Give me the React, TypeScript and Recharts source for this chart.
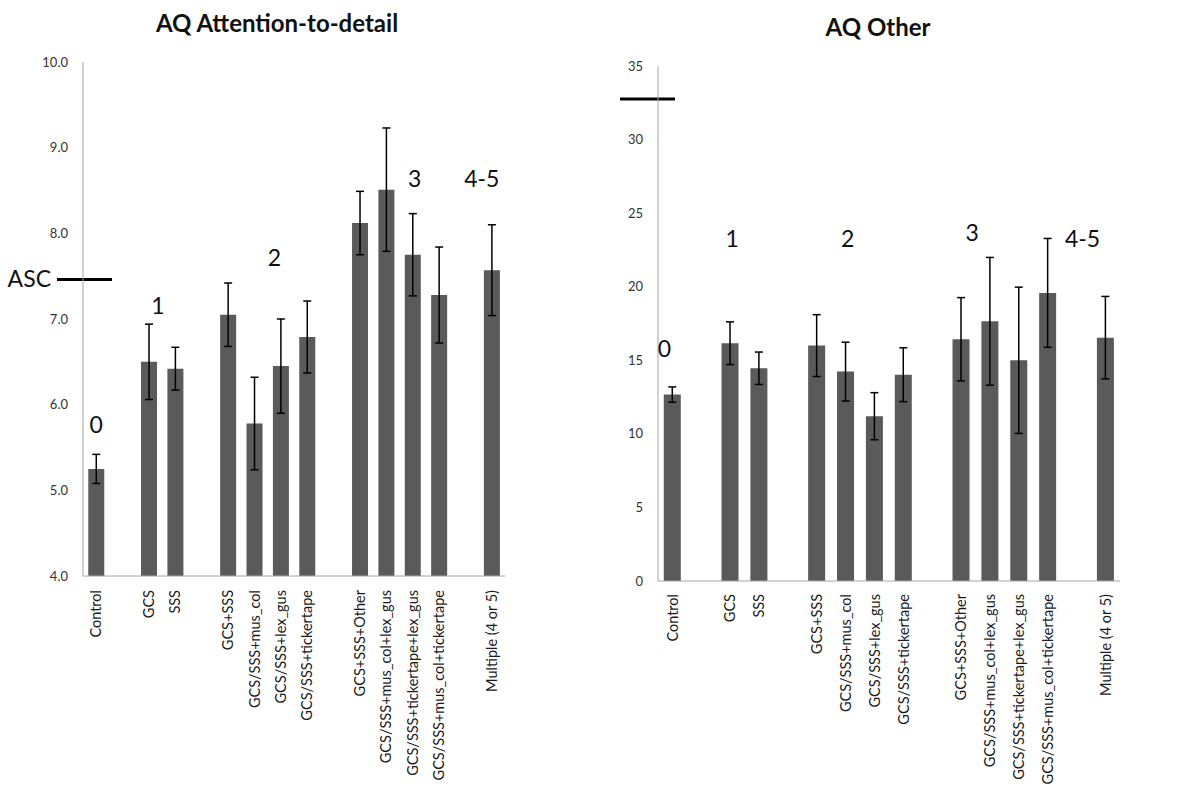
import React from 'react';
import { BarChart, Bar, XAxis, YAxis, ErrorBar, ReferenceLine, ReferenceDot } from 'recharts';

// categories (gapN = empty slot between groups)
const categories = [
    'Control', 'gap1', 'GCS', 'SSS', 'gap2',
    'GCS+SSS', 'GCS/SSS+mus_col', 'GCS/SSS+lex_gus', 'GCS/SSS+tickertape', 'gap3',
    'GCS+SSS+Other', 'GCS/SSS+mus_col+lex_gus', 'GCS/SSS+tickertape+lex_gus', 'GCS/SSS+mus_col+tickertape', 'gap4',
    'Multiple (4 or 5)',
];

// AQ Attention-to-detail
const detailMeans = [5.25, null, 6.5, 6.42, null, 7.05, 5.78, 6.45, 6.79, null, 8.12, 8.51, 7.75, 7.28, null, 7.57];
const detailErrors = [0.17, null, 0.44, 0.25, null, 0.37, 0.54, 0.55, 0.42, null, 0.37, 0.72, 0.48, 0.56, null, 0.53];
const detailTicks = [4, 5, 6, 7, 8, 9, 10];
const detailAsc = 7.46;

// AQ Other
const otherMeans = [12.67, null, 16.16, 14.46, null, 16.0, 14.23, 11.2, 14.02, null, 16.43, 17.65, 15.0, 19.58, null, 16.54];
const otherErrors = [0.52, null, 1.45, 1.1, null, 2.1, 2.0, 1.6, 1.83, null, 2.83, 4.34, 4.97, 3.7, null, 2.8];
const otherTicks = [0, 5, 10, 15, 20, 25, 30, 35];
const otherAsc = 32.75;

// group annotations: text, anchor category, anchor value
const detailGroups = [
    { text: '0', cat: 'Control', y: 5.77, dx: 0 },
    { text: '1', cat: 'GCS', y: 7.16, dx: 9 },
    { text: '2', cat: 'GCS/SSS+mus_col', y: 7.72, dx: 20 },
    { text: '3', cat: 'GCS/SSS+tickertape+lex_gus', y: 8.64, dx: 2 },
    { text: '4-5', cat: 'Multiple (4 or 5)', y: 8.64, dx: -10 },
];
const otherGroups = [
    { text: '0', cat: 'Control', y: 15.77, dx: -8 },
    { text: '1', cat: 'GCS', y: 23.25, dx: 2 },
    { text: '2', cat: 'GCS/SSS+mus_col', y: 23.25, dx: 2 },
    { text: '3', cat: 'GCS+SSS+Other', y: 23.66, dx: 11 },
    { text: '4-5', cat: 'Multiple (4 or 5)', y: 23.25, dx: -23 },
];

const FONT = 'Lato, "Open Sans", sans-serif';
const BAR = '#5a5a5a';
const AXIS = '#a6a6a6';

const build = (means: (number | null)[], errs: (number | null)[]) =>
    categories.map((name, i) => ({ name, value: means[i], err: errs[i] }));

const XTick = (props: any) => {
    const { x, y, payload, offset } = props;
    const label = String(payload.value).startsWith('gap') ? '' : payload.value;
    const ty = y + offset;
    return (
        <text
            x={x}
            y={ty}
            dy="0.35em"
            transform={`rotate(-90, ${x}, ${ty})`}
            textAnchor="end"
            fontSize={14.5}
            fontFamily={FONT}
            fill="#1a1a1a"
        >
            {label}
        </text>
    );
};

const GroupLabel = (props: any) => {
    const { viewBox, value, dx } = props;
    if (!viewBox) return null;
    const cx = viewBox.cx ?? viewBox.x + (viewBox.width || 0) / 2;
    const cy = viewBox.cy ?? viewBox.y + (viewBox.height || 0) / 2;
    return (
        <text
            x={cx + dx}
            y={cy}
            dy="0.36em"
            textAnchor="middle"
            fontSize={23}
            fontFamily={FONT}
            fill="#111"
        >
            {value}
        </text>
    );
};

const ascShape = (left: number, right: number, showText: boolean) => (props: any) => {
    const { x1, y1 } = props;
    return (
        <g>
            <line x1={x1 - left} y1={y1} x2={x1 + right} y2={y1} stroke="#000" strokeWidth={3} />
            {showText && (
                <text x={x1 - left - 6} y={y1} dy="0.34em" textAnchor="end" fontSize={23} fontFamily={FONT} fill="#111">
                    ASC
                </text>
            )}
        </g>
    );
};

type PanelProps = {
    title: string;
    width: number;
    margin: { top: number; right: number; bottom: number; left: number };
    yWidth: number;
    xHeight: number;
    data: any[];
    ticks: number[];
    digits: number;
    asc: number;
    ascLeft: number;
    ascRight: number;
    ascText: boolean;
    groups: { text: string; cat: string; y: number; dx: number }[];
    tickOffset: number;
    titleX: number;
    titleY: number;
};

function Panel(p: PanelProps) {
    return (
        <div style={{ position: 'relative', width: p.width, height: 792 }}>
            <div
                style={{
                    position: 'absolute',
                    left: p.titleX - 200,
                    width: 400,
                    top: p.titleY - 15,
                    textAlign: 'center',
                    fontFamily: FONT,
                    fontWeight: 700,
                    fontSize: 24,
                    lineHeight: '30px',
                    color: '#111',
                }}
            >
                {p.title}
            </div>
            <BarChart width={p.width} height={792} data={p.data} margin={p.margin} barCategoryGap="20%">
                <XAxis
                    dataKey="name"
                    interval={0}
                    height={p.xHeight}
                    tickLine={false}
                    tickSize={0}
                    stroke={AXIS}
                    tick={<XTick offset={p.tickOffset} />}
                />
                <YAxis
                    width={p.yWidth}
                    domain={[p.ticks[0], p.ticks[p.ticks.length - 1]]}
                    ticks={p.ticks}
                    interval={0}
                    tickLine={false}
                    tickMargin={9}
                    stroke={AXIS}
                    tickFormatter={(v: number) => v.toFixed(p.digits)}
                    tick={{ fill: '#333', fontSize: 13, fontFamily: FONT }}
                />
                <Bar dataKey="value" fill={BAR} isAnimationActive={false}>
                    <ErrorBar dataKey="err" width={4} stroke="#000" strokeWidth={1.5} direction="y" />
                </Bar>
                <ReferenceLine y={p.asc} stroke="none" shape={ascShape(p.ascLeft, p.ascRight, p.ascText)} />
                {p.groups.map((g) => (
                    <ReferenceDot
                        key={g.text}
                        x={g.cat}
                        y={g.y}
                        r={0}
                        fill="none"
                        stroke="none"
                        label={(lp: any) => <GroupLabel {...lp} value={g.text} dx={g.dx} />}
                    />
                ))}
            </BarChart>
        </div>
    );
}

export default function App() {
    return (
        <div style={{ position: 'absolute', left: 0, top: 0, width: 1196, height: 792, background: '#fff', display: 'flex' }}>
            <Panel
                title="AQ Attention-to-detail"
                width={600}
                margin={{ top: 62, right: 95, bottom: 0, left: 0 }}
                yWidth={83}
                xHeight={216}
                data={build(detailMeans, detailErrors)}
                ticks={detailTicks}
                digits={1}
                asc={detailAsc}
                ascLeft={26}
                ascRight={29}
                ascText={true}
                groups={detailGroups}
                tickOffset={12}
                titleX={277}
                titleY={23}
            />
            <Panel
                title="AQ Other"
                width={596}
                margin={{ top: 66, right: 76, bottom: 0, left: 0 }}
                yWidth={58}
                xHeight={211}
                data={build(otherMeans, otherErrors)}
                ticks={otherTicks}
                digits={0}
                asc={otherAsc}
                ascLeft={38}
                ascRight={17}
                ascText={false}
                groups={otherGroups}
                tickOffset={11}
                titleX={278}
                titleY={27}
            />
        </div>
    );
}
